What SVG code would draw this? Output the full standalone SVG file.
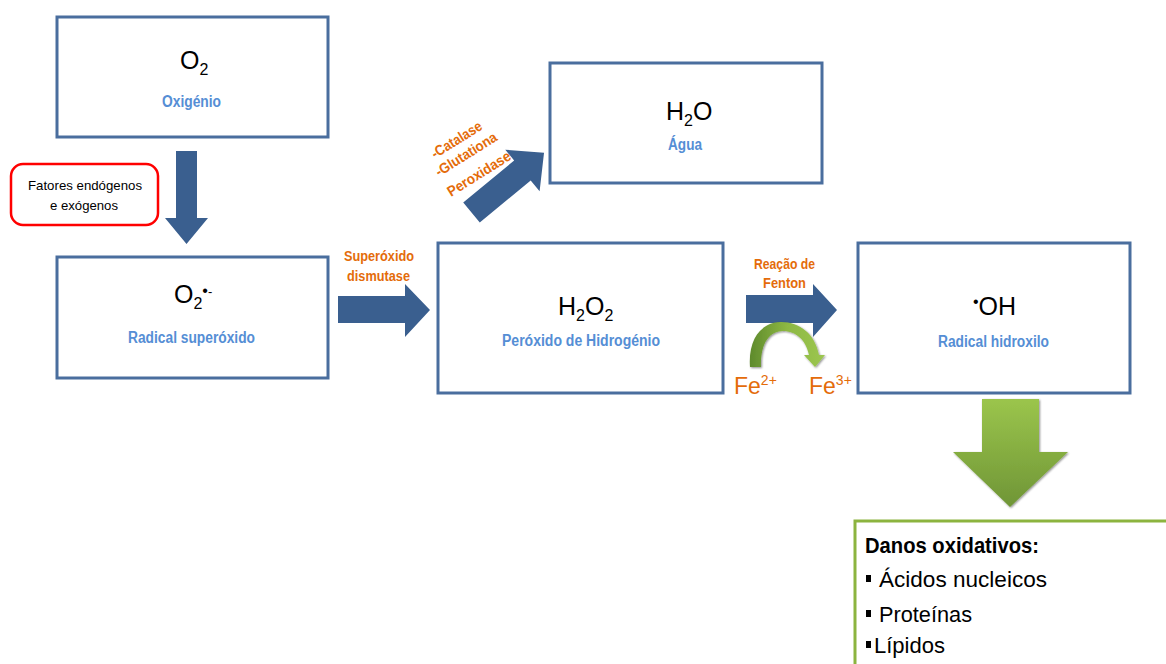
<svg xmlns="http://www.w3.org/2000/svg" width="1166" height="664" viewBox="0 0 1166 664">
<style>
text{font-family:"Liberation Sans Narrow","Liberation Sans",Arial,sans-serif}
.box{fill:#fff;stroke:#4A6E9E;stroke-width:3}
.f{font-size:25px;fill:#000}
.lbl{font-size:16px;font-weight:bold;fill:#558ED5;text-anchor:middle}
.or{font-size:14.5px;font-weight:bold;fill:#E46C0A}
.fe{font-size:23px;fill:#E46C0A}
.ba{fill:#3A5F8F}
.dn{font-size:22px;fill:#000}
</style>
<defs>
<linearGradient id="gd" x1="0" y1="0" x2="0" y2="1">
<stop offset="0" stop-color="#9BC54C"/>
<stop offset="1" stop-color="#6F9536"/>
</linearGradient>
<linearGradient id="gc" x1="0" y1="0" x2="1" y2="0">
<stop offset="0" stop-color="#5E8A2C"/>
<stop offset="0.5" stop-color="#8DB843"/>
<stop offset="1" stop-color="#9CC650"/>
</linearGradient>
<filter id="sh" x="-10%" y="-10%" width="130%" height="130%">
<feGaussianBlur in="SourceAlpha" stdDeviation="1.2"/>
<feOffset dx="1" dy="1" result="b"/>
<feComponentTransfer><feFuncA type="linear" slope="0.45"/></feComponentTransfer>
<feMerge><feMergeNode/><feMergeNode in="SourceGraphic"/></feMerge>
</filter>
</defs>

<g id="connectors">
<path class="ba" d="M176,151 L197,151 L197,218 L208,218 L186.5,244 L165,218 L176,218 Z"/>
<path class="ba" d="M338,296 L405,296 L405,284 L430,310 L405,337 L405,323 L338,323 Z"/>
<path class="ba" d="M746,295 L813,295 L813,284 L837,310 L813,337 L813,323 L746,323 Z"/>
<path class="ba" transform="translate(471.5,212.5) rotate(-39.5)" d="M0,-13 L66,-13 L66,-27 L94,0 L66,27 L66,13 L0,13 Z"/>
<path fill="url(#gc)" filter="url(#sh)" d="M750,367 C748,338 762,322 781,322 C800,322 815,334 819,355 L825,355 L815,367 L804,355 L809,355 C806,340 796,331 783,331 C770,331 760,343 761,367 Z"/>
<path fill="url(#gd)" filter="url(#sh)" d="M982,399 L1039,399 L1039,452 L1068,452 L1010,507 L953,452 L982,452 Z"/>
<text class="or" x="344" y="261" textLength="70" lengthAdjust="spacingAndGlyphs">Superóxido</text>
<text class="or" x="347" y="281" textLength="63" lengthAdjust="spacingAndGlyphs">dismutase</text>
<text class="or" x="754" y="269" textLength="61" lengthAdjust="spacingAndGlyphs">Reação de</text>
<text class="or" x="763" y="288" textLength="43" lengthAdjust="spacingAndGlyphs">Fenton</text>
<g transform="rotate(-32 435 159)"><text class="or" x="435" y="159" textLength="57" lengthAdjust="spacingAndGlyphs">-Catalase</text></g>
<g transform="rotate(-32 439 177)"><text class="or" x="439" y="177" textLength="70" lengthAdjust="spacingAndGlyphs">-Glutationa</text></g>
<g transform="rotate(-32 451 197)"><text class="or" x="451" y="197" textLength="72" lengthAdjust="spacingAndGlyphs">Peroxidase</text></g>
<text class="fe" x="734" y="394">Fe<tspan font-size="14" dy="-9">2+</tspan></text>
<text class="fe" x="809" y="394">Fe<tspan font-size="14" dy="-9">3+</tspan></text>
</g>

<g id="factors">
<rect x="11" y="164" width="147" height="61" rx="12" fill="#fff" stroke="#FF0000" stroke-width="2.5"/>
<text x="28" y="190" font-size="13" fill="#000" textLength="114" lengthAdjust="spacingAndGlyphs">Fatores endógenos</text>
<text x="50" y="210" font-size="13" fill="#000" textLength="68" lengthAdjust="spacingAndGlyphs">e exógenos</text>
</g>

<g id="o2">
<rect class="box" x="57" y="17" width="271" height="120"/>
<text class="f" x="180" y="69">O<tspan font-size="16" dy="6">2</tspan></text>
<text class="lbl" x="191.5" y="107" textLength="59" lengthAdjust="spacingAndGlyphs">Oxigénio</text>
</g>

<g id="superoxide">
<rect class="box" x="57" y="257" width="271" height="121"/>
<text class="f" x="174" y="303">O<tspan font-size="16" dy="6">2</tspan><tspan font-size="16" dy="-13">•</tspan><tspan font-size="13">-</tspan></text>
<text class="lbl" x="191.5" y="343" textLength="127" lengthAdjust="spacingAndGlyphs">Radical superóxido</text>
</g>

<g id="water">
<rect class="box" x="550" y="63" width="272" height="120"/>
<text class="f" x="666" y="120">H<tspan font-size="16" dy="6">2</tspan><tspan dy="-6">O</tspan></text>
<text class="lbl" x="685" y="150" textLength="34" lengthAdjust="spacingAndGlyphs">Água</text>
</g>

<g id="h2o2">
<rect class="box" x="438" y="243" width="285" height="150"/>
<text class="f" x="558" y="315">H<tspan font-size="16" dy="6">2</tspan><tspan dy="-6">O</tspan><tspan font-size="16" dy="6">2</tspan></text>
<text class="lbl" x="581" y="346" textLength="158" lengthAdjust="spacingAndGlyphs">Peróxido de Hidrogénio</text>
</g>

<g id="hydroxyl">
<rect class="box" x="858" y="243" width="272" height="150"/>
<text class="f" x="973" y="315"><tspan font-size="16" dy="-8">•</tspan><tspan dy="8">OH</tspan></text>
<text class="lbl" x="993.5" y="347" textLength="111" lengthAdjust="spacingAndGlyphs">Radical hidroxilo</text>
</g>

<g id="damage">
<rect x="855" y="521" width="330" height="200" fill="#fff" stroke="#8CB43F" stroke-width="3"/>
<text class="dn" x="865" y="553" font-weight="bold" textLength="174" lengthAdjust="spacingAndGlyphs">Danos oxidativos:</text>
<rect x="866" y="575" width="5" height="7" fill="#000"/>
<text class="dn" x="879" y="587" textLength="168" lengthAdjust="spacingAndGlyphs">Ácidos  nucleicos</text>
<rect x="866" y="610" width="5" height="7" fill="#000"/>
<text class="dn" x="879" y="622" textLength="93" lengthAdjust="spacingAndGlyphs">Proteínas</text>
<rect x="866" y="641" width="5" height="7" fill="#000"/>
<text class="dn" x="874" y="653" textLength="71" lengthAdjust="spacingAndGlyphs">Lípidos</text>
</g>
</svg>
